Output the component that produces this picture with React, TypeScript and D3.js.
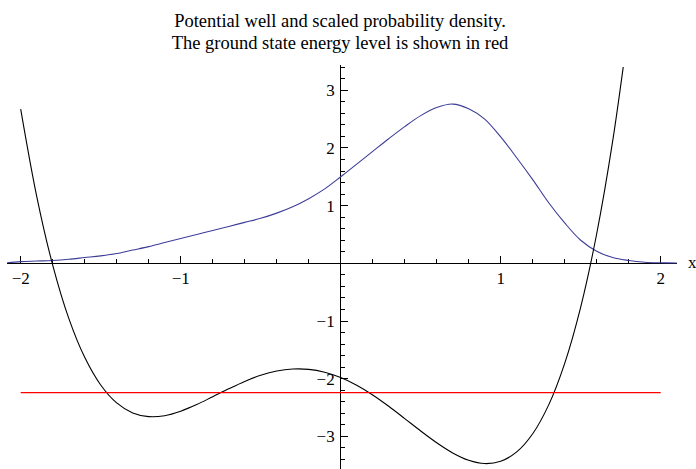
import React from "react";
import * as d3 from "d3";

// Sample positions for the potential V(x) and the scaled density |psi|^2
const xs = [-2.0, -1.9, -1.8, -1.7, -1.6, -1.5, -1.4, -1.3, -1.2, -1.1, -1.0, -0.9, -0.8, -0.7, -0.6, -0.5, -0.4, -0.3, -0.2, -0.1, 0.0, 0.1, 0.2, 0.3, 0.4, 0.5, 0.6, 0.7, 0.8, 0.9, 1.0, 1.1, 1.2, 1.3, 1.4, 1.5, 1.6, 1.7, 1.8];

const potential = [2.672, 1.162, -0.03, -0.949, -1.629, -2.108, -2.419, -2.593, -2.657, -2.64, -2.562, -2.448, -2.311, -2.174, -2.046, -1.94, -1.866, -1.831, -1.837, -1.887, -1.98, -2.114, -2.281, -2.477, -2.69, -2.906, -3.11, -3.286, -3.413, -3.47, -3.43, -3.268, -2.953, -2.453, -1.733, -0.758, 0.513, 2.121, 4.112];

const densityX = [-2.085, -2.0, -1.9, -1.8, -1.7, -1.6, -1.5, -1.4, -1.3, -1.2, -1.1, -1.0, -0.9, -0.8, -0.7, -0.6, -0.5, -0.4, -0.3, -0.2, -0.1, 0.0, 0.1, 0.2, 0.3, 0.4, 0.5, 0.6, 0.7, 0.8, 0.9, 1.0, 1.1, 1.2, 1.3, 1.4, 1.5, 1.6, 1.7, 1.8, 1.9, 2.0, 2.1];

const density = [0.01, 0.03, 0.04, 0.05, 0.07, 0.1, 0.13, 0.17, 0.23, 0.29, 0.36, 0.43, 0.5, 0.57, 0.64, 0.71, 0.78, 0.87, 0.98, 1.12, 1.29, 1.5, 1.72, 1.94, 2.16, 2.37, 2.56, 2.7, 2.76, 2.68, 2.5, 2.19, 1.83, 1.45, 1.05, 0.7, 0.4, 0.21, 0.1, 0.05, 0.02, 0.01, 0.005];

const groundEnergy = -2.24;
const energyRange = [-2, 2];

const xMajor = [-2, -1, 1, 2];
const xMinor = d3.range(-20, 21, 2).map((v) => v / 10);
const yMajor = [-3, -2, -1, 0, 1, 2, 3];
const yMinor = d3.range(-34, 35, 2).map((v) => v / 10);

const titleLines = [
  "Potential well and scaled probability density.",
  "The ground state energy level is shown in red",
];

const W = 696;
const H = 469;

const fmt = (v: number) => (v < 0 ? "\u2212" + Math.abs(v) : String(v));

export default function App() {
  const x = d3.scaleLinear().domain([-2.085, 2.1]).range([7.1, 676.7]);
  const y = d3.scaleLinear().domain([-3.5, 3.42]).range([465.3, 66]);

  const line = d3
    .line<[number, number]>()
    .x((d) => x(d[0]))
    .y((d) => y(d[1]))
    .curve(d3.curveCatmullRom.alpha(0.5));

  const vPath = line(xs.map((v, i) => [v, potential[i]] as [number, number])) || "";
  const dPath = line(densityX.map((v, i) => [v, density[i]] as [number, number])) || "";

  const x0 = x(0);
  const y0 = y(0);
  const font = "'Liberation Serif', 'Times New Roman', serif";

  return (
    <svg
      width={W}
      height={H}
      style={{ position: "absolute", left: 0, top: 0, background: "#fff" }}
      fontFamily={font}
    >
      <defs>
        <clipPath id="plotClip">
          <rect x={0} y={67} width={W} height={H - 67} />
        </clipPath>
      </defs>

      {/* title */}
      {titleLines.map((t, i) => (
        <text key={i} x={340} y={27 + i * 21.5} textAnchor="middle" fontSize={18.5} fill="#000">
          {t}
        </text>
      ))}

      {/* axes */}
      <g stroke="#000" strokeWidth={1} shapeRendering="crispEdges">
        <line x1={x.range()[0]} x2={x.range()[1]} y1={y0} y2={y0} />
        <line x1={x0} x2={x0} y1={y.range()[1] - 1} y2={H} />
        {xMinor.map((v) => (
          <line key={"xm" + v} x1={x(v)} x2={x(v)} y1={y0} y2={y0 - (xMajor.includes(v) || v === 0 ? 7.5 : 4.3)} />
        ))}
        {yMinor.map((v) => (
          <line key={"ym" + v} x1={x0} x2={x0 + (yMajor.includes(v) ? 7.5 : 4.3)} y1={y(v)} y2={y(v)} />
        ))}
      </g>

      {/* tick labels */}
      {xMajor.map((v) => (
        <text key={"xl" + v} x={x(v)} y={y0 + 21} textAnchor="middle" fontSize={17} fill="#000">
          {fmt(v)}
        </text>
      ))}
      {yMajor
        .filter((v) => v !== 0)
        .map((v) => (
          <text key={"yl" + v} x={x0 - 6} y={y(v) + 6} textAnchor="end" fontSize={17} fill="#000">
            {fmt(v)}
          </text>
        ))}
      <text x={688} y={y0 + 5} fontSize={17} fill="#000">
        x
      </text>

      <g clipPath="url(#plotClip)" fill="none">
        <path d={dPath} stroke="#3d3d99" strokeWidth={1.1} />
        <path d={vPath} stroke="#000" strokeWidth={1.1} />
        <line
          x1={x(energyRange[0])}
          x2={x(energyRange[1])}
          y1={y(groundEnergy)}
          y2={y(groundEnergy)}
          stroke="#ff0000"
          strokeWidth={1.1}
        />
      </g>
    </svg>
  );
}
